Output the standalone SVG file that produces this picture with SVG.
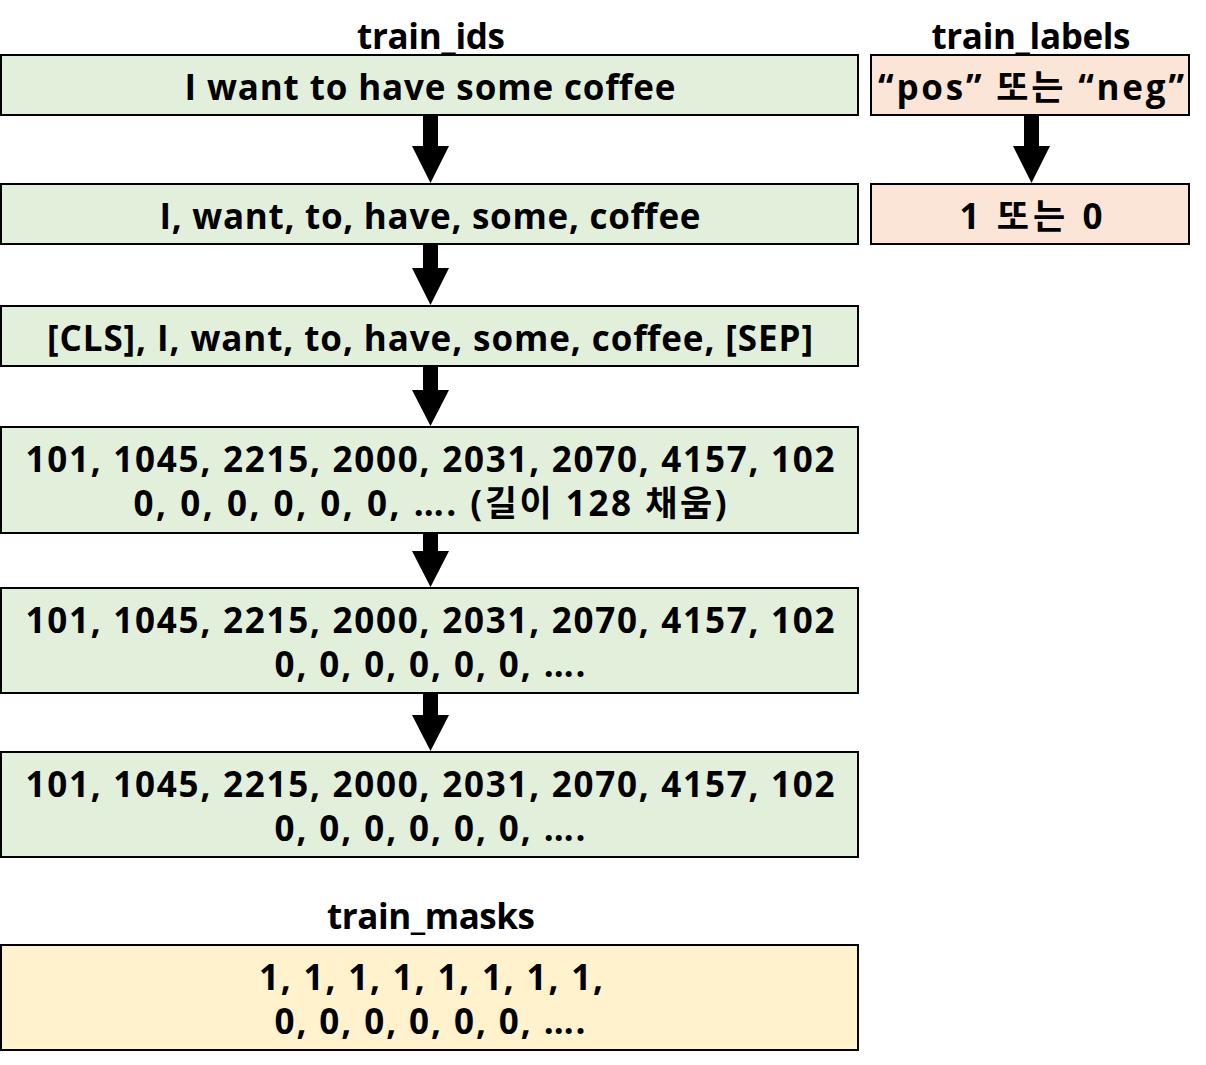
<svg xmlns="http://www.w3.org/2000/svg" width="1206" height="1065" viewBox="0 0 1206 1065">
<style>
text{font-family:"Open Sans","Noto Sans CJK KR",sans-serif;font-weight:bold;font-size:35px;fill:#000;text-anchor:middle}
.g{fill:#e2efda;stroke:#000;stroke-width:2}
.o{fill:#fbe5d6;stroke:#000;stroke-width:2}
.y{fill:#fff2cc;stroke:#000;stroke-width:2}
.a{fill:#000}
</style>
<rect width="1206" height="1065" fill="#fff"/>
<g id="title_ids"><text x="431" y="49" textLength="148" lengthAdjust="spacing">train_ids</text></g>
<g id="title_labels"><text x="1031" y="49" textLength="199" lengthAdjust="spacing">train_labels</text></g>
<g id="n1"><rect class="g" x="1" y="55" width="857" height="60"/><text x="430" y="100" textLength="491" lengthAdjust="spacing">I want to have some coffee</text></g>
<g id="n2"><rect class="g" x="1" y="184" width="857" height="60"/><text x="430" y="229" textLength="541" lengthAdjust="spacing">I, want, to, have, some, coffee</text></g>
<g id="n3"><rect class="g" x="1" y="306" width="857" height="60"/><text x="430" y="351" textLength="766" lengthAdjust="spacing">[CLS], I, want, to, have, some, coffee, [SEP]</text></g>
<g id="n4"><rect class="g" x="1" y="427" width="857" height="106"/><text x="430" y="472" textLength="809" lengthAdjust="spacing">101, 1045, 2215, 2000, 2031, 2070, 4157, 102</text><text x="430" y="516" textLength="593" lengthAdjust="spacing">0, 0, 0, 0, 0, 0, …. (길이 128 채움)</text></g>
<g id="n5"><rect class="g" x="1" y="588" width="857" height="105"/><text x="430" y="633" textLength="809" lengthAdjust="spacing">101, 1045, 2215, 2000, 2031, 2070, 4157, 102</text><text x="430" y="677" textLength="311" lengthAdjust="spacing">0, 0, 0, 0, 0, 0, ….</text></g>
<g id="n6"><rect class="g" x="1" y="752" width="857" height="105"/><text x="430" y="797" textLength="809" lengthAdjust="spacing">101, 1045, 2215, 2000, 2031, 2070, 4157, 102</text><text x="430" y="841" textLength="311" lengthAdjust="spacing">0, 0, 0, 0, 0, 0, ….</text></g>
<g id="title_masks"><text x="431" y="929" textLength="208" lengthAdjust="spacing">train_masks</text></g>
<g id="n7"><rect class="y" x="1" y="945" width="857" height="105"/><text x="431" y="990" textLength="344" lengthAdjust="spacing">1, 1, 1, 1, 1, 1, 1, 1,</text><text x="430" y="1034" textLength="311" lengthAdjust="spacing">0, 0, 0, 0, 0, 0, ….</text></g>
<g id="l1"><rect class="o" x="871" y="55" width="318" height="60"/><text x="1031" y="100" textLength="306" lengthAdjust="spacing">“pos” 또는 “neg”</text></g>
<g id="l2"><rect class="o" x="871" y="184" width="318" height="60"/><text x="1031" y="229" textLength="143" lengthAdjust="spacing">1 또는 0</text></g>
<g id="connectors">
<path class="a" d="M423,116 H438 V146 H449 L430.5,183 L412,146 H423 Z"/>
<path class="a" d="M423,245 H438 V268 H449 L430.5,305 L412,268 H423 Z"/>
<path class="a" d="M423,367 H438 V390 H449 L430.5,426 L412,390 H423 Z"/>
<path class="a" d="M423,534 H438 V551 H449 L430.5,587 L412,551 H423 Z"/>
<path class="a" d="M423,694 H438 V715 H449 L430.5,751 L412,715 H423 Z"/>
<path class="a" d="M1024,116 H1039 V146 H1050 L1031.5,183 L1013,146 H1024 Z"/>
</g>
</svg>
